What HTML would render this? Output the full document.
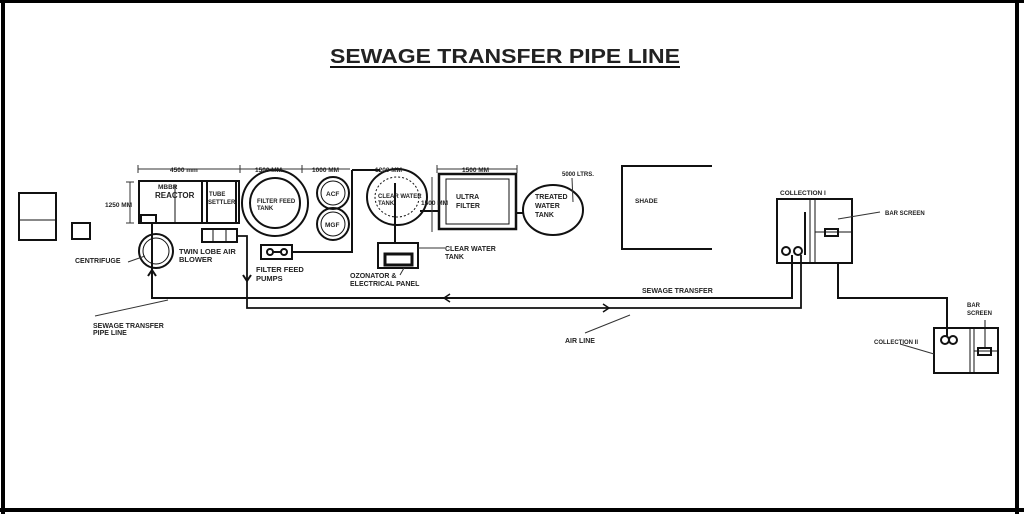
<!DOCTYPE html>
<html><head><style>body{margin:0;background:#fff}svg{display:block}text{font-family:"Liberation Sans",sans-serif;font-weight:bold;fill:#222}</style></head>
<body>
<svg width="1024" height="514" viewBox="0 0 1024 514" xmlns="http://www.w3.org/2000/svg">
<rect x="0" y="0" width="1024" height="514" fill="#fff"/>
<g fill="#000">
<rect x="0" y="0" width="1024" height="3"/>
<rect x="1" y="0" width="4" height="514"/>
<rect x="1015" y="0" width="4" height="514"/>
<rect x="0" y="508" width="1024" height="4"/>
</g>
<text x="330" y="63" font-size="20" textLength="350" lengthAdjust="spacingAndGlyphs" fill="#111">SEWAGE TRANSFER PIPE LINE</text>
<rect x="330" y="66" width="350" height="2" fill="#111"/>
<g fill="none" stroke="#111" stroke-width="2">
<rect x="19" y="193" width="37" height="47"/>
<line x1="19" y1="220" x2="56" y2="220" stroke-width="1"/>
<rect x="72" y="223" width="18" height="16"/>
<rect x="139" y="181" width="100" height="42"/>
<line x1="202" y1="181" x2="202" y2="223"/>
<line x1="207" y1="181" x2="207" y2="223"/>
<line x1="236" y1="181" x2="236" y2="223"/>
<rect x="141" y="215" width="15" height="8"/>
<line x1="175" y1="185" x2="175" y2="223" stroke-width="1"/>
<circle cx="156" cy="251" r="17"/>
<circle cx="156" cy="251" r="13" stroke-width="1"/>
<rect x="202" y="229" width="35" height="13"/>
<line x1="213" y1="229" x2="213" y2="242" stroke-width="1"/>
<line x1="226" y1="229" x2="226" y2="242" stroke-width="1"/>
<circle cx="275" cy="203" r="33"/>
<circle cx="275" cy="203" r="25"/>
<circle cx="333" cy="193" r="16"/>
<circle cx="333" cy="193" r="12" stroke-width="1"/>
<circle cx="333" cy="224" r="16"/>
<circle cx="333" cy="224" r="12" stroke-width="1"/>
<polyline points="352,170 352,252 292,252"/>
<rect x="261" y="245" width="31" height="14"/>
<circle cx="270" cy="252" r="3"/><circle cx="284" cy="252" r="3"/>
<line x1="273" y1="252" x2="281" y2="252"/>
<line x1="352" y1="170" x2="380" y2="170"/>
<ellipse cx="397" cy="197" rx="30" ry="28"/>
<ellipse cx="397" cy="197" rx="22" ry="20" stroke-width="1" stroke-dasharray="2,2"/>
<line x1="395" y1="183" x2="395" y2="243"/>
<line x1="420" y1="211" x2="439" y2="211"/>
<rect x="378" y="243" width="40" height="25"/>
<rect x="385" y="254" width="27" height="11" stroke-width="3"/>
<rect x="439" y="174" width="77" height="55" stroke-width="2.5"/>
<rect x="446" y="179" width="63" height="45" stroke-width="1"/>
<line x1="516" y1="213" x2="523" y2="213"/>
<ellipse cx="553" cy="210" rx="30" ry="25"/>
<polyline points="712,166 622,166 622,249 712,249"/>
<rect x="777" y="199" width="75" height="64"/>
<line x1="810" y1="199" x2="810" y2="263" stroke-width="1"/>
<line x1="815" y1="199" x2="815" y2="263" stroke-width="1"/>
<line x1="805" y1="212" x2="805" y2="255"/>
<circle cx="786" cy="251" r="4"/><circle cx="798" cy="251" r="4"/>
<rect x="825" y="229" width="13" height="7"/>
<line x1="815" y1="232" x2="852" y2="232" stroke-width="1"/>
<polyline points="838,263 838,298 947,298 947,336"/>
<rect x="934" y="328" width="64" height="45"/>
<line x1="970" y1="328" x2="970" y2="373" stroke-width="1"/>
<line x1="974" y1="328" x2="974" y2="373" stroke-width="1"/>
<circle cx="945" cy="340" r="4"/><circle cx="953" cy="340" r="4"/>
<rect x="978" y="348" width="13" height="7"/>
<line x1="974" y1="351" x2="998" y2="351" stroke-width="1"/>
<line x1="985" y1="320" x2="985" y2="348" stroke-width="1"/>
<polyline points="152,223 152,298 792,298 792,255"/>
<polyline points="237,236 247,236 247,308 801,308 801,255" stroke-width="1.8"/>
<polyline points="148,276 152,270 156,276" />
<polyline points="243,275 247,281 251,275"/>
<polyline points="450,294 444,298 450,302" stroke-width="1.5"/>
<polyline points="603,304 609,308 603,312" stroke-width="1.5"/>
</g>
<g stroke="#333" stroke-width="1" fill="none">
<line x1="138" y1="169" x2="240" y2="169"/><line x1="138" y1="165" x2="138" y2="173"/>
<line x1="240" y1="165" x2="240" y2="173"/><line x1="302" y1="165" x2="302" y2="173"/>
<line x1="240" y1="169" x2="350" y2="169"/>
<line x1="437" y1="165" x2="437" y2="173"/><line x1="517" y1="165" x2="517" y2="173"/>
<line x1="437" y1="169" x2="517" y2="169"/>
<line x1="130" y1="182" x2="130" y2="223"/><line x1="126" y1="182" x2="134" y2="182"/><line x1="126" y1="223" x2="134" y2="223"/>
<line x1="432" y1="177" x2="432" y2="232"/>
<line x1="128" y1="262" x2="145" y2="256"/>
<line x1="95" y1="316" x2="168" y2="300"/>
<line x1="418" y1="248" x2="445" y2="248"/>
<line x1="404" y1="268" x2="400" y2="275"/>
<line x1="572" y1="178" x2="573" y2="202"/>
<line x1="585" y1="333" x2="630" y2="315"/>
<line x1="838" y1="219" x2="880" y2="212"/>
<line x1="900" y1="344" x2="934" y2="354"/>
</g>
<g font-size="6.5">
<text x="170" y="172" fill="#222">4500 mm</text>
<text x="255" y="172">1500 MM</text>
<text x="312" y="172">1000 MM</text>
<text x="375" y="172">1200 MM</text>
<text x="462" y="172">1500 MM</text>
<text x="105" y="207">1250 MM</text>
<text x="158" y="189">MBBR</text>
<text x="155" y="198" font-size="8">REACTOR</text>
<text x="209" y="196" font-size="6">TUBE</text>
<text x="208" y="204" font-size="6">SETTLER</text>
<text x="257" y="203" font-size="6">FILTER FEED</text>
<text x="257" y="210" font-size="6">TANK</text>
<text x="326" y="196">ACF</text>
<text x="325" y="227">MGF</text>
<text x="378" y="198" font-size="6">CLEAR WATER</text>
<text x="378" y="205" font-size="6">TANK</text>
<text x="421" y="205">1500 MM</text>
<text x="456" y="199" font-size="7">ULTRA</text>
<text x="456" y="208" font-size="7">FILTER</text>
<text x="535" y="199" font-size="7">TREATED</text>
<text x="535" y="208" font-size="7">WATER</text>
<text x="535" y="217" font-size="7">TANK</text>
<text x="562" y="176" font-size="6">5000 LTRS.</text>
<text x="635" y="203">SHADE</text>
<text x="445" y="251" font-size="7">CLEAR WATER</text>
<text x="445" y="259" font-size="7">TANK</text>
<text x="350" y="278" font-size="7">OZONATOR &amp;</text>
<text x="350" y="286" font-size="7">ELECTRICAL PANEL</text>
<text x="75" y="263" font-size="7">CENTRIFUGE</text>
<text x="179" y="254" font-size="7.5">TWIN LOBE AIR</text>
<text x="179" y="262" font-size="7.5">BLOWER</text>
<text x="256" y="272" font-size="7.5">FILTER FEED</text>
<text x="256" y="281" font-size="7.5">PUMPS</text>
<text x="93" y="328" font-size="7">SEWAGE TRANSFER</text>
<text x="93" y="335" font-size="7">PIPE LINE</text>
<text x="642" y="293" font-size="7">SEWAGE TRANSFER</text>
<text x="565" y="343" font-size="7">AIR LINE</text>
<text x="780" y="195">COLLECTION I</text>
<text x="885" y="215" font-size="6">BAR SCREEN</text>
<text x="967" y="307" font-size="6">BAR</text>
<text x="967" y="315" font-size="6">SCREEN</text>
<text x="874" y="344" font-size="6">COLLECTION II</text>
</g>
</svg>
</body></html>
